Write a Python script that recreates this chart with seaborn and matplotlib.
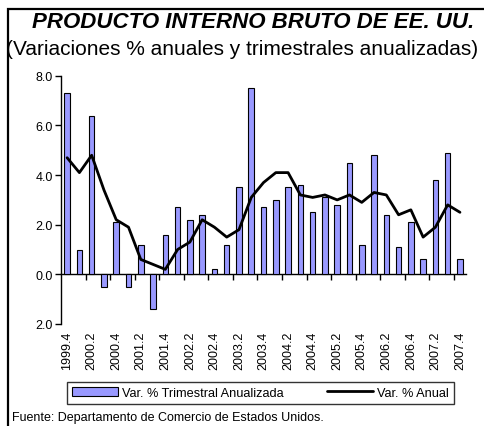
import numpy as np
import pandas as pd
import seaborn as sns
import matplotlib.pyplot as plt
from matplotlib.patches import Patch, Rectangle
from matplotlib.lines import Line2D
from matplotlib.ticker import FuncFormatter

# quarters 1999.4 - 2007.4
trimestres = ['1999.4',
              '2000.1', '2000.2', '2000.3', '2000.4',
              '2001.1', '2001.2', '2001.3', '2001.4',
              '2002.1', '2002.2', '2002.3', '2002.4',
              '2003.1', '2003.2', '2003.3', '2003.4',
              '2004.1', '2004.2', '2004.3', '2004.4',
              '2005.1', '2005.2', '2005.3', '2005.4',
              '2006.1', '2006.2', '2006.3', '2006.4',
              '2007.1', '2007.2', '2007.3', '2007.4']

var_trimestral = [7.3,
                  1.0, 6.4, -0.5, 2.1,
                  -0.5, 1.2, -1.4, 1.6,
                  2.7, 2.2, 2.4, 0.2,
                  1.2, 3.5, 7.5, 2.7,
                  3.0, 3.5, 3.6, 2.5,
                  3.1, 2.8, 4.5, 1.2,
                  4.8, 2.4, 1.1, 2.1,
                  0.6, 3.8, 4.9, 0.6]

var_anual = [4.7,
             4.1, 4.8, 3.4, 2.2,
             1.9, 0.6, 0.4, 0.2,
             1.0, 1.3, 2.2, 1.9,
             1.5, 1.8, 3.1, 3.7,
             4.1, 4.1, 3.2, 3.1,
             3.2, 3.0, 3.2, 2.9,
             3.3, 3.2, 2.4, 2.6,
             1.5, 1.9, 2.8, 2.5]

df = pd.DataFrame({'trimestre': trimestres,
                   'trimestral': var_trimestral,
                   'anual': var_anual})
df['pos'] = np.arange(len(df))

sns.set_style('white', rc={'text.color': 'black', 'axes.labelcolor': 'black',
                           'xtick.color': 'black', 'ytick.color': 'black'})
plt.rcParams['font.family'] = ['Liberation Sans', 'DejaVu Sans']

fig = plt.figure(figsize=(4.84, 4.27), dpi=100)
ax = fig.add_axes([0.126, 0.239, 0.837, 0.581])

bar_color = '#9999FF'
sns.barplot(data=df, x='trimestre', y='trimestral', color=bar_color,
            saturation=1, width=0.45, edgecolor='black', linewidth=0.8, ax=ax)
sns.lineplot(data=df, x='pos', y='anual', color='black', linewidth=2, ax=ax)

ax.set_xlim(-0.5, len(df) - 0.5)
ax.set_ylim(-2, 8)
ax.set_yticks(np.arange(-2, 8.1, 2))
ax.yaxis.set_major_formatter(FuncFormatter(lambda v, p: f'{abs(v):.1f}'))
ax.tick_params(axis='y', direction='out', length=4, width=1, labelsize=9,
               left=True, pad=2, colors='black')

ax.set_xticks(df['pos'][::2])
ax.set_xticklabels(df['trimestre'][::2], rotation=90, fontsize=9)
ax.tick_params(axis='x', length=0, pad=5)
ax.set_xlabel('')
ax.set_ylabel('')

for s in ['top', 'right', 'bottom']:
    ax.spines[s].set_visible(False)
ax.spines['left'].set_color('black')
ax.spines['left'].set_linewidth(1)

# zero line with category tick marks
zero = ax.secondary_xaxis(0.2)
zero.set_xticks(np.arange(1.5, len(df), 2))
zero.set_xticklabels([])
zero.tick_params(direction='out', length=4, width=1, colors='black')
zero.spines['bottom'].set_color('black')
zero.spines['bottom'].set_linewidth(1)

handles = [Patch(facecolor=bar_color, edgecolor='black', linewidth=0.8),
           Line2D([], [], color='black', linewidth=2)]
leg = fig.legend(handles, ['Var. % Trimestral Anualizada', 'Var. % Anual'],
                 loc='center', bbox_to_anchor=(0.538, 0.078), ncol=2,
                 fontsize=9.2, frameon=True, fancybox=False, edgecolor='black',
                 handlelength=3.6, handleheight=0.7, handletextpad=0.3,
                 columnspacing=3.4, borderpad=0.4, borderaxespad=0)
leg.get_frame().set_linewidth(1)

fig.text(0.522, 0.948, 'PRODUCTO INTERNO BRUTO DE EE. UU.', ha='center',
         va='center', fontsize=16, fontweight='bold', fontstyle='italic')
fig.text(0.501, 0.883, '(Variaciones % anuales y trimestrales anualizadas)',
         ha='center', va='center', fontsize=15)
fig.text(0.025, 0.021, 'Fuente: Departamento de Comercio de Estados Unidos.',
         ha='left', va='center', fontsize=9)

# outer frame (only top and left edges fall inside the canvas)
fig.add_artist(Rectangle((8 / 484, -0.5), 2, 0.5 + (1 - 10 / 427),
                         transform=fig.transFigure, fill=False,
                         edgecolor='black', linewidth=1.6))

fig.savefig('out.png', dpi=100)
